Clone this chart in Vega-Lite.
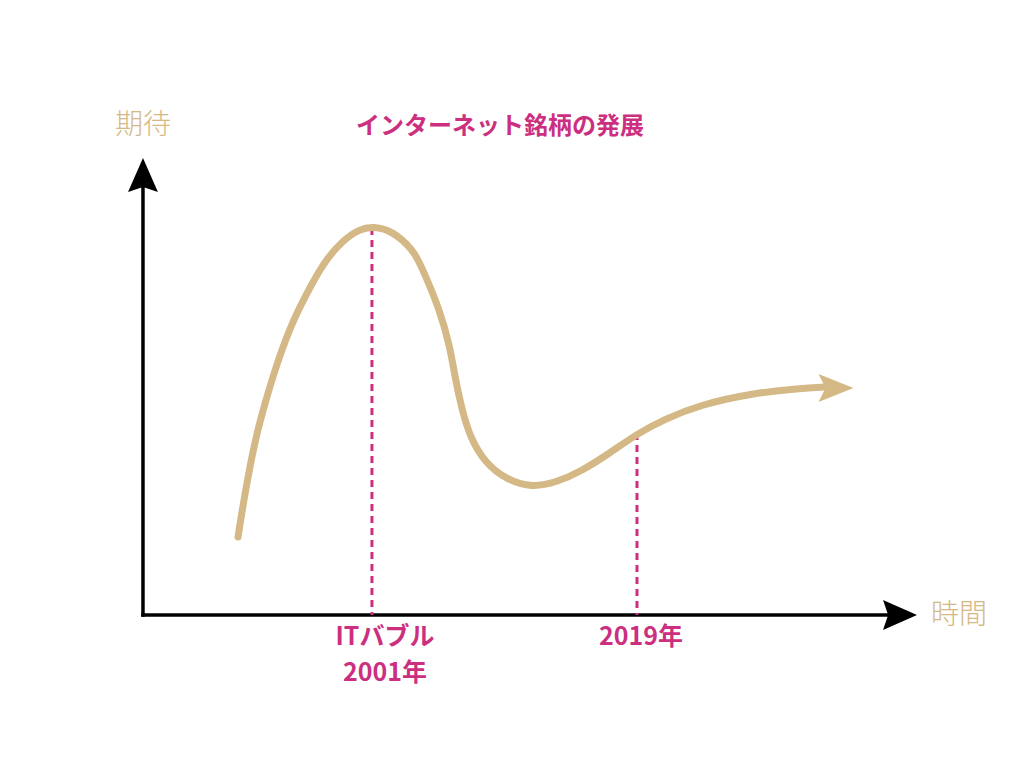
{
  "$schema": "https://vega.github.io/schema/vega-lite/v6.json",
  "width": 1024,
  "height": 762,
  "autosize": {"type": "fit", "contains": "padding"},
  "padding": 0,
  "background": "white",
  "config": {"view": {"stroke": null}},
  "datasets": {
    "curve": [
      {"t": 12.31, "e": 17.14}, {"t": 13.21, "e": 26.81}, {"t": 14.51, "e": 38.46},
      {"t": 15.8, "e": 46.59}, {"t": 17.49, "e": 56.04}, {"t": 19.3, "e": 64.18},
      {"t": 20.98, "e": 69.89},
      {"t": 23.32, "e": 77.36}, {"t": 25.91, "e": 82.42}, {"t": 28.11, "e": 84.85},
      {"t": 29.79, "e": 85.4}, {"t": 32.38, "e": 84.4}, {"t": 34.97, "e": 80.22},
      {"t": 35.88, "e": 77.36}, {"t": 38.47, "e": 67.03}, {"t": 39.77, "e": 58.9},
      {"t": 40.41, "e": 52.31}, {"t": 41.32, "e": 45.05}, {"t": 42.36, "e": 39.12},
      {"t": 44.3, "e": 33.41}, {"t": 47.15, "e": 29.67}, {"t": 50.39, "e": 28.0},
      {"t": 53.63, "e": 29.23}, {"t": 56.61, "e": 31.43}, {"t": 60.49, "e": 35.6},
      {"t": 63.99, "e": 39.8}, {"t": 67.5, "e": 43.0}, {"t": 72.15, "e": 46.2},
      {"t": 79.02, "e": 48.79}, {"t": 85.1, "e": 49.8}, {"t": 88.34, "e": 50.11}
    ],
    "tanhead": [{"t": 89.77, "e": 49.89}],
    "axes": [
      {"t": 0, "e": 0, "t2": 0, "e2": 94.5},
      {"t": 0, "e": 0, "t2": 96.76, "e2": 0}
    ],
    "heads": [
      {"t": 0, "e": 96.7, "dir": "up"},
      {"t": 98.06, "e": 0, "dir": "right"}
    ],
    "markers": [
      {"t": 29.66, "e": 85.05, "base": 0},
      {"t": 63.99, "e": 40.0, "base": 0}
    ],
    "axisTitles": [
      {"t": 0, "e": 107.47, "label": "期待"},
      {"t": 105.7, "e": -0.22, "label": "時間"}
    ],
    "title": [{"t": 46.24, "e": 107.25, "label": "インターネット銘柄の発展"}],
    "events": [
      {"t": 31.35, "e": -4.84, "label": "ITバブル"},
      {"t": 31.35, "e": -12.75, "label": "2001年"},
      {"t": 64.51, "e": -4.84, "label": "2019年"}
    ]
  },
  "encoding": {
    "x": {"field": "t", "type": "quantitative", "scale": {"domain": [-18.52, 114.12], "nice": false, "zero": false}, "axis": null},
    "y": {"field": "e", "type": "quantitative", "scale": {"domain": [-32.31, 135.16], "nice": false, "zero": false}, "axis": null}
  },
  "layer": [
    {
      "data": {"name": "axes"},
      "mark": {"type": "rule", "color": "black", "strokeWidth": 3.5, "strokeCap": "square"},
      "encoding": {"x2": {"field": "t2"}, "y2": {"field": "e2"}}
    },
    {
      "data": {"name": "heads"},
      "mark": {"type": "point", "filled": true, "opacity": 1, "color": "black", "size": 1156},
      "encoding": {
        "shape": {"field": "dir", "type": "nominal", "legend": null,
          "scale": {"domain": ["up", "right"], "range": ["M0,-1L-0.88,1L0,0.7L0.88,1Z", "M1,0L-1,-0.88L-0.7,0L-1,0.88Z"]}}
      }
    },
    {
      "data": {"name": "markers"},
      "mark": {"type": "rule", "color": "#cc2f7f", "strokeWidth": 3, "strokeDash": [7, 5]},
      "encoding": {"y2": {"field": "base"}}
    },
    {
      "data": {"name": "curve"},
      "mark": {"type": "line", "color": "#d4b886", "strokeWidth": 7, "strokeCap": "round", "interpolate": "basis"},
      "encoding": {}
    },
    {
      "data": {"name": "tanhead"},
      "mark": {"type": "point", "filled": true, "opacity": 1, "color": "#d4b886", "size": 1225, "shape": "M1,0L-1,-0.8L-0.6,0L-1,0.8Z"},
      "encoding": {}
    },
    {
      "data": {"name": "axisTitles"},
      "mark": {"type": "text", "font": "Noto Sans CJK JP", "fontSize": 28, "fontWeight": 300, "color": "#d4b886", "align": "center", "baseline": "middle"},
      "encoding": {"text": {"field": "label"}}
    },
    {
      "data": {"name": "title"},
      "mark": {"type": "text", "font": "Noto Sans CJK JP", "fontSize": 24, "fontWeight": "bold", "color": "#cc2f7f", "align": "center", "baseline": "middle"},
      "encoding": {"text": {"field": "label"}}
    },
    {
      "data": {"name": "events"},
      "mark": {"type": "text", "font": "Noto Sans CJK JP", "fontSize": 25, "fontWeight": "bold", "color": "#cc2f7f", "align": "center", "baseline": "middle"},
      "encoding": {"text": {"field": "label"}}
    }
  ]
}
